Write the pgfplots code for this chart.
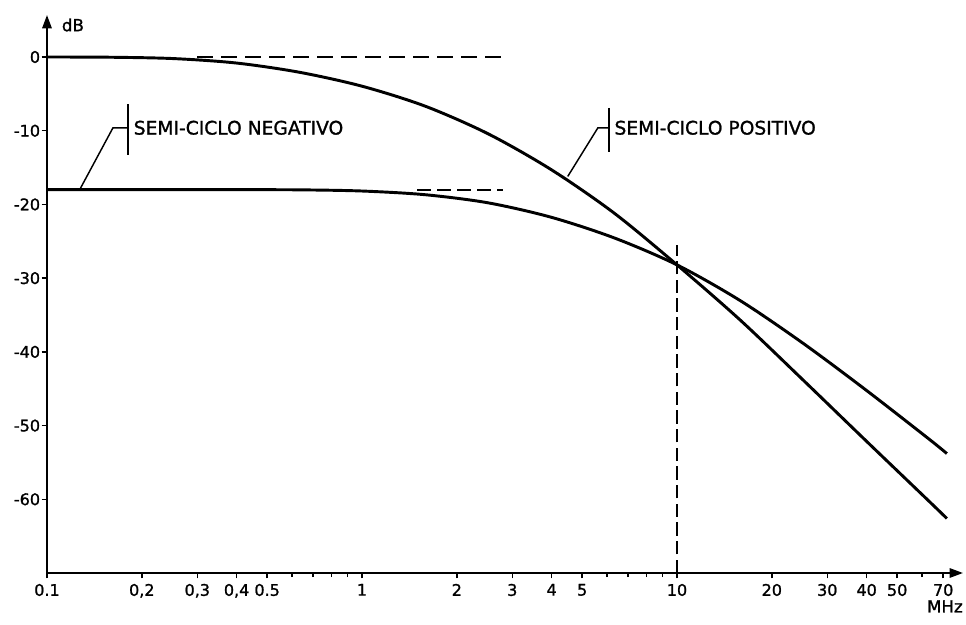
\documentclass[border=0pt]{standalone}
\usepackage{fontspec}
\setmainfont{DejaVu Sans}
\newfontfamily\lab{DejaVu Sans}[FakeBold=1.2]
\usepackage{pgfplots}
\pgfplotsset{compat=1.18}
\usetikzlibrary{arrows.meta}

% semi-ciclo positivo
\pgfplotstableread{
f db
0.1 0
0.158 -0.03
0.251 -0.21
0.398 -0.81
0.631 -2.06
1 -3.96
1.585 -6.66
2.512 -10.41
3.981 -15.26
6.310 -21.16
10 -28.2
15.85 -35.66
25.12 -43.81
39.81 -52.06
63.10 -60.26
71.9 -62.6
}\pos

% semi-ciclo negativo
\pgfplotstableread{
f db
0.1 -18
0.251 -18
0.398 -18
0.631 -18.02
1 -18.18
1.585 -18.68
2.512 -19.78
3.981 -21.73
6.310 -24.53
10 -28.2
15.85 -33.03
25.12 -38.83
39.81 -45.18
63.10 -51.83
71.9 -53.8
}\neg

\begin{document}
\begin{tikzpicture}
\begin{axis}[
  scale only axis, width=687pt, height=418.5pt,
  xmode=log, xmin=0.1, xmax=80.9, ymin=-70, ymax=5.7,
  axis lines=left,
  axis line style={line width=1.5pt, -{Triangle[length=10pt,width=7pt]}},
  xtick={0.1,0.2,0.3,0.4,0.5,1,2,3,4,5,10,20,30,40,50,70},
  xticklabels={0.1,{0,2},{0,3},{0,4},0.5,1,2,3,4,5,10,20,30,40,50,70},
  minor xtick={0.6,0.7,0.8,0.9,6,7,8,9,60},
  ytick={0,-10,-20,-30,-40,-50,-60},
  yticklabels={0,-10,-20,-30,-40,-50,-60},
  tick align=outside,
  major tick length=4pt, minor tick length=3pt,
  tick style={black, line width=1.1pt},
  tick label style={font=\lab\fontsize{12}{14}\selectfont},
  xticklabel style={inner sep=2pt, yshift=-2pt},
  yticklabel style={inner sep=1pt},
  clip=false,
]
\addplot[black, line width=2.2pt, smooth] table {\pos};
\addplot[black, line width=2.2pt, smooth] table {\neg};
% dashed asymptotes
\addplot[black, line width=1.6pt, dash pattern=on 12pt off 6pt] coordinates {(0.3,0) (2.8,0)};
\addplot[black, line width=1.6pt, dash pattern=on 10pt off 5pt] coordinates {(1.5,-18) (2.8,-18)};
\addplot[black, line width=1.3pt, dash pattern=on 10pt off 4pt] coordinates {(10,-70) (10,-25.5)};
% callouts
\draw[line width=1.1pt] (axis cs:0.181,-6.4) -- (axis cs:0.181,-13.3);
\draw[line width=1.1pt] (axis cs:0.127,-18) -- (axis cs:0.162,-9.6) -- (axis cs:0.181,-9.6);
\node[anchor=west, inner sep=4pt, font=\lab\fontsize{14}{16}\selectfont] at (axis cs:0.181,-9.6) {SEMI-CICLO NEGATIVO};
\draw[line width=1.1pt] (axis cs:6.08,-6.9) -- (axis cs:6.08,-12.9);
\draw[line width=1.1pt] (axis cs:4.5,-16.2) -- (axis cs:5.61,-9.6) -- (axis cs:6.08,-9.6);
\node[anchor=west, inner sep=4pt, font=\lab\fontsize{14}{16}\selectfont] at (axis cs:6.08,-9.6) {SEMI-CICLO POSITIVO};
% axis names
\node[anchor=west, inner sep=0pt, font=\lab\fontsize{12.5}{14}\selectfont] at ([xshift=11pt, yshift=-7.5pt]rel axis cs:0,1) {dB};
\node[anchor=east, inner sep=0pt, font=\lab\fontsize{12.5}{14}\selectfont] at ([yshift=-25pt]rel axis cs:1,0) {MHz};
\coordinate (bl) at (rel axis cs:0,0);
\coordinate (tr) at (rel axis cs:1,1);
\end{axis}
\pgfresetboundingbox
\path ([shift={(-35.25pt,-38.25pt)}]bl) rectangle ([shift={(2.25pt,11.25pt)}]tr);
\end{tikzpicture}
\end{document}
